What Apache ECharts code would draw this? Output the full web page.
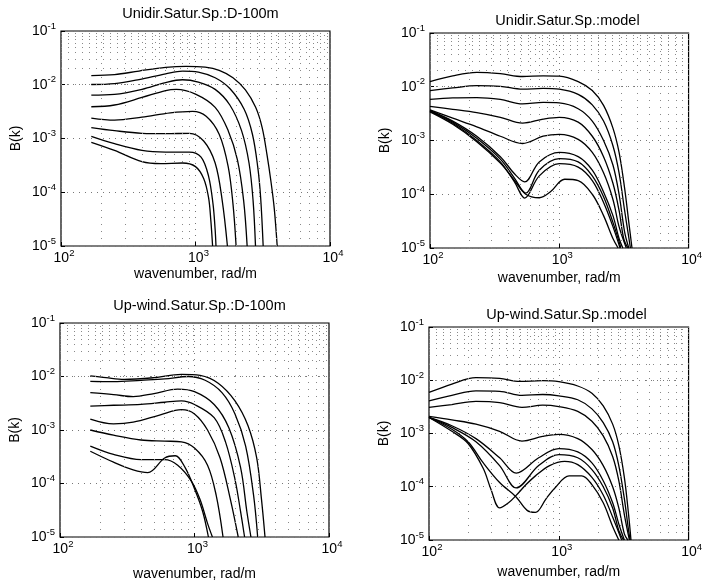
<!DOCTYPE html>
<html><head><meta charset="utf-8">
<script src="https://cdn.jsdelivr.net/npm/echarts@6/dist/echarts.min.js"></script>
<style>html,body{margin:0;padding:0;background:#fff}#c{width:705px;height:582px}</style>
</head><body><div id="c"></div>
<script>
// ---- data: [wavenumber k (rad/m), B(k)] ----
const titles = ["Unidir.Satur.Sp.:D-100m","Unidir.Satur.Sp.:model","Up-wind.Satur.Sp.:D-100m","Up-wind.Satur.Sp.:model"];
const xTicks = [100,1000,10000];
const yTicks = [1e-5,1e-4,1e-3,1e-2,1e-1];

const p1_1=[[168,0.0148],[250,0.0154],[380,0.018],[600,0.021],[850,0.022],[1180,0.0212],[1500,0.0185],[1900,0.0135],[2350,0.008],[2800,0.0038],[3130,0.0016],[3400,0.0005],[3650,0.00015],[3850,0.00005],[4050,0.00001]];
const p1_2=[[168,0.0101],[250,0.0105],[380,0.0125],[600,0.016],[800,0.018],[1050,0.0172],[1400,0.0135],[1800,0.0085],[2300,0.0035],[2650,0.0012],[2900,0.0003],[3050,0.00008],[3185,0.00001]];
const p1_3=[[168,0.0064],[250,0.0066],[400,0.0082],[600,0.011],[800,0.0124],[1050,0.0112],[1400,0.0082],[1800,0.0042],[2200,0.0014],[2500,0.00035],[2680,0.00007],[2793,0.00001]];
const p1_4=[[168,0.0039],[250,0.0042],[400,0.0058],[600,0.0078],[720,0.0082],[1000,0.0067],[1400,0.0038],[1750,0.0014],[2050,0.0004],[2280,0.00007],[2421,0.00001]];
const p1_5=[[168,0.0024],[250,0.0022],[400,0.0025],[650,0.003],[950,0.0032],[1200,0.0026],[1500,0.0012],[1750,0.0003],[1900,0.00006],[2004,0.00001]];
const p1_6=[[168,0.0016],[250,0.0014],[400,0.00125],[600,0.00123],[900,0.00125],[1150,0.0009],[1400,0.00035],[1580,0.00007],[1727,0.00001]];
const p1_7=[[168,0.0011],[250,0.0008],[400,0.0006],[600,0.00056],[900,0.00056],[1100,0.00045],[1250,0.0002],[1350,0.00006],[1400,0.00002],[1420,0.00001]];
const p1_8=[[168,0.00085],[250,0.0006],[400,0.00037],[550,0.00034],[800,0.00035],[1000,0.0003],[1150,0.00018],[1250,0.00008],[1300,0.00003],[1340,0.00001]];

const p2_1=[[100,0.0125],[150,0.016],[230,0.0185],[350,0.0175],[520,0.0155],[750,0.016],[1000,0.0158],[1400,0.0125],[1800,0.0085],[2200,0.0045],[2600,0.0017],[2900,0.0006],[3200,0.00013],[3450,0.00003],[3650,0.00001]];
const p2_2=[[100,0.0085],[150,0.0095],[230,0.0105],[350,0.0102],[520,0.009],[750,0.0093],[1000,0.009],[1400,0.0072],[1800,0.0046],[2200,0.0023],[2600,0.0008],[2900,0.00025],[3200,0.00005],[3550,0.00001]];
const p2_3=[[100,0.0058],[150,0.0062],[230,0.0063],[350,0.0058],[520,0.0048],[750,0.0051],[1000,0.005],[1400,0.0039],[1800,0.0023],[2200,0.001],[2600,0.00035],[2900,0.0001],[3200,0.00002],[3450,0.00001]];
const p2_4=[[100,0.0043],[150,0.0038],[230,0.0033],[350,0.0027],[520,0.0021],[750,0.0025],[1000,0.0027],[1400,0.0022],[1800,0.0012],[2200,0.0005],[2600,0.00016],[2900,0.00005],[3150,0.000015],[3400,0.00001]];
const p2_5=[[100,0.0037],[150,0.0026],[230,0.0018],[350,0.0012],[520,0.00088],[750,0.0012],[1000,0.0013],[1400,0.00105],[1800,0.0006],[2200,0.00025],[2600,0.00008],[2900,0.000025],[3300,0.00001]];
const p2_6=[[100,0.0036],[150,0.0023],[230,0.0012],[350,0.0005],[450,0.00024],[540,0.00017],[700,0.0004],[1000,0.0006],[1400,0.0005],[1800,0.00028],[2200,0.00011],[2600,0.00004],[2900,0.000015],[3100,0.00001]];
const p2_7=[[100,0.0036],[150,0.0022],[230,0.0011],[350,0.00045],[450,0.0002],[550,0.000105],[700,0.00028],[1000,0.00046],[1400,0.0004],[1800,0.00022],[2200,0.00009],[2600,0.00003],[3000,0.00001]];
const p2_8=[[100,0.0035],[150,0.0021],[230,0.001],[350,0.0004],[450,0.00017],[540,0.000085],[700,0.00022],[1000,0.00037],[1400,0.00032],[1800,0.00018],[2200,0.00007],[2600,0.000025],[2950,0.00001]];
const p2_9=[[100,0.0034],[150,0.002],[230,0.00095],[350,0.00038],[450,0.00018],[550,0.0001],[700,0.000086],[850,0.00011],[1100,0.00019],[1400,0.00018],[1800,0.0001],[2200,0.00004],[2600,0.000015],[2850,0.00001]];

const p3_1=[[168,0.0103],[220,0.0095],[300,0.0088],[500,0.0095],[800,0.011],[1100,0.0105],[1500,0.0075],[2000,0.0035],[2500,0.0012],[2900,0.0003],[3150,0.00005],[3344,0.00001]];
const p3_2=[[168,0.0081],[250,0.008],[400,0.0085],[600,0.009],[900,0.01],[1200,0.0085],[1600,0.005],[2000,0.002],[2400,0.0005],[2750,0.00006],[2949,0.00001]];
const p3_3=[[168,0.005],[250,0.0046],[350,0.0042],[500,0.0048],[750,0.0058],[1000,0.0052],[1400,0.003],[1800,0.0011],[2200,0.0002],[2450,0.00003],[2628,0.00001]];
const p3_4=[[168,0.0028],[250,0.0029],[400,0.003],[600,0.0033],[800,0.0035],[1000,0.003],[1400,0.0017],[1700,0.0006],[2000,0.00012],[2200,0.00003],[2357,0.00001]];
const p3_5=[[168,0.0016],[250,0.0013],[350,0.0014],[550,0.0019],[800,0.0024],[1000,0.002],[1250,0.001],[1550,0.0003],[1850,0.00005],[2114,0.00001]];
const p3_6=[[168,0.001],[250,0.0008],[400,0.00065],[600,0.00062],[800,0.0006],[1000,0.00046],[1250,0.00022],[1450,0.00006],[1630,0.00001]];
const p3_7=[[168,0.0005],[250,0.00035],[400,0.00028],[600,0.00028],[750,0.00022],[950,0.00011],[1100,0.00005],[1250,0.000018],[1359,0.00001]];
const p3_8=[[168,0.0004],[250,0.00025],[350,0.00018],[450,0.00016],[600,0.0003],[720,0.00033],[850,0.0002],[1000,0.00008],[1150,0.00003],[1269,0.00001]];

const p4_1=[[100,0.0059],[150,0.0085],[230,0.0112],[350,0.0108],[500,0.0095],[750,0.0098],[1000,0.0094],[1400,0.0078],[1800,0.0057],[2200,0.0033],[2600,0.0015],[2900,0.0006],[3200,0.00015],[3450,0.00003],[3600,0.00001]];
const p4_2=[[100,0.0041],[150,0.0052],[230,0.0063],[350,0.0062],[520,0.0052],[750,0.0054],[1000,0.0051],[1400,0.0043],[1800,0.0029],[2200,0.0016],[2600,0.0007],[2900,0.00025],[3200,0.00006],[3450,0.000015],[3550,0.00001]];
const p4_3=[[100,0.0031],[150,0.0035],[230,0.004],[350,0.0038],[520,0.0031],[750,0.0034],[1000,0.0032],[1400,0.0026],[1800,0.0017],[2200,0.0009],[2600,0.00037],[2900,0.00013],[3200,0.00003],[3500,0.00001]];
const p4_4=[[100,0.0021],[150,0.0018],[230,0.0015],[350,0.0011],[520,0.00072],[750,0.00088],[1000,0.00096],[1400,0.0008],[1800,0.0005],[2200,0.00025],[2600,0.0001],[2900,0.00004],[3200,0.000013],[3400,0.00001]];
const p4_5=[[100,0.002],[150,0.0014],[230,0.0008],[350,0.00035],[470,0.00018],[700,0.00035],[1000,0.00052],[1400,0.00045],[1800,0.00028],[2200,0.00013],[2600,0.00005],[2900,0.00002],[3200,0.00001]];
const p4_6=[[100,0.002],[150,0.0013],[230,0.0007],[350,0.00025],[470,0.000095],[700,0.00025],[1000,0.0004],[1400,0.00035],[1800,0.00021],[2200,0.0001],[2600,0.00004],[2900,0.000015],[3150,0.00001]];
const p4_7=[[100,0.002],[150,0.0011],[200,0.00065],[262,0.00022],[300,0.00009],[350,0.00004],[410,0.00005],[467,0.000068],[560,0.00011],[661,0.00016],[850,0.00025],[1110,0.0003],[1400,0.00026],[1800,0.00015],[2200,0.00007],[2600,0.000027],[3050,0.00001]];
const p4_8=[[100,0.002],[150,0.0012],[200,0.0007],[262,0.00028],[350,0.00012],[467,0.000065],[570,0.000036],[661,0.000033],[800,0.00006],[934,0.000095],[1200,0.00016],[1500,0.00016],[1800,0.00011],[2200,0.00005],[2600,0.000018],[2900,0.00001]];

const panels = [
  {title:titles[0], curves:[p1_1,p1_2,p1_3,p1_4,p1_5,p1_6,p1_7,p1_8]},
  {title:titles[1], curves:[p2_1,p2_2,p2_3,p2_4,p2_5,p2_6,p2_7,p2_8,p2_9]},
  {title:titles[2], curves:[p3_1,p3_2,p3_3,p3_4,p3_5,p3_6,p3_7,p3_8]},
  {title:titles[3], curves:[p4_1,p4_2,p4_3,p4_4,p4_5,p4_6,p4_7,p4_8]}
];

// ---- layout ----
const grids = [
  {left:61, top:31, width:269, height:215},
  {left:430, top:33, width:265, height:215},
  {left:60, top:323, width:269, height:214},
  {left:429, top:327, width:265, height:213}
];
const titleTop = [1, 8, 293, 302];
const xNameGap = [21, 23, 30, 25];
const yNameGap = [38, 38, 38, 38];
const FONT = '"Liberation Sans", Arial, Helvetica, sans-serif';

const minorX = [];
[100,1000].forEach(d=>{for(let m=2;m<=9;m++) minorX.push(d*m);});
const minorY = [];
[1e-5,1e-4,1e-3,1e-2].forEach(d=>{for(let m=2;m<=9;m++) minorY.push(d*m);});

function supLabel(v){
  const e = Math.round(Math.log10(v));
  return '{b|10}{s|' + e + '}';
}
const richX = {
  b:{fontSize:14, fontFamily:FONT, color:'#000', lineHeight:14, verticalAlign:'bottom', padding:[0,0,0,6]},
  s:{fontSize:9.5, fontFamily:FONT, color:'#000', lineHeight:14, verticalAlign:'bottom', padding:[0,0,7,0]}
};
const richY = {
  b:{fontSize:14, fontFamily:FONT, color:'#000', lineHeight:14, verticalAlign:'bottom'},
  s:{fontSize:9.5, fontFamily:FONT, color:'#000', lineHeight:14, verticalAlign:'bottom', padding:[0,0,7,0]}
};

const option = {
  backgroundColor:'#fff',
  animation:false,
  title: panels.map((p,i)=>({
    text:p.title, left:grids[i].left+grids[i].width/2, top:titleTop[i], textAlign:'center',
    textStyle:{fontSize:14.5, fontWeight:'normal', fontFamily:FONT, color:'#000'}
  })),
  grid: grids.map(g=>Object.assign({show:true, borderColor:'#000', borderWidth:1.2, backgroundColor:'transparent', containLabel:false}, g)),
  xAxis: grids.map((g,i)=>({
    type:'log', logBase:10, gridIndex:i, min:100, max:10000,
    name:'wavenumber, rad/m', nameLocation:'middle', nameGap:xNameGap[i],
    nameTextStyle:{fontSize:14, fontFamily:FONT, color:'#000'},
    axisLine:{show:false}, axisTick:{show:true, inside:true, length:4, lineStyle:{color:'#000'}},
    splitLine:{show:true, lineStyle:{color:'#777', type:[1,5], width:1}},
    axisLabel:{formatter:supLabel, rich:richX, margin:5, color:'#000'}
  })),
  yAxis: grids.map((g,i)=>({
    type:'log', logBase:10, gridIndex:i, min:1e-5, max:1e-1,
    name:'B(k)', nameLocation:'middle', nameGap:yNameGap[i],
    nameTextStyle:{fontSize:14, fontFamily:FONT, color:'#000'},
    axisLine:{show:false}, axisTick:{show:true, inside:true, length:4, lineStyle:{color:'#000'}},
    splitLine:{show:true, lineStyle:{color:'#777', type:[1,5], width:1}},
    axisLabel:{formatter:supLabel, rich:richY, margin:5, color:'#000'}
  })),
  series: []
};

panels.forEach((p,i)=>{
  option.series.push({
    type:'line', xAxisIndex:i, yAxisIndex:i, data:[], silent:true,
    markLine:{silent:true, symbol:'none', label:{show:false},
      lineStyle:{color:'#888', type:[1,6], width:1},
      data: minorX.map(v=>({xAxis:v})).concat(minorY.map(v=>({yAxis:v})))}
  });
  p.curves.forEach(c=>{
    option.series.push({
      type:'line', xAxisIndex:i, yAxisIndex:i, data:c, showSymbol:false, symbol:'none',
      smooth:0.35, clip:true, lineStyle:{color:'#000', width:1.3}
    });
  });
});

const chart = echarts.init(document.getElementById('c'), null, {renderer:'canvas'});
chart.setOption(option);
</script>
</body></html>
